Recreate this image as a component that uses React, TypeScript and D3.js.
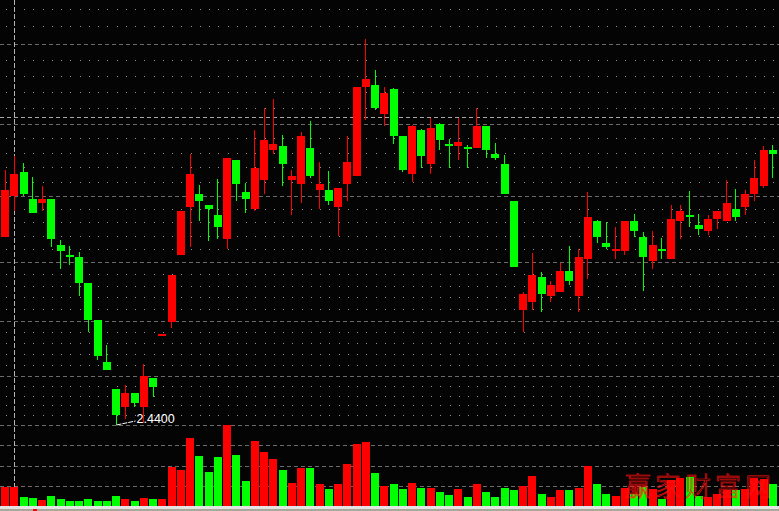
import * as d3 from 'd3';
import React, { useEffect, useRef } from 'react';

const W = 779;
const H = 511;

// daily bars, oldest on the left
const opens = [
  3.192, 3.356, 3.452, 3.344, 3.328, 3.344, 3.16, 3.12, 3.112, 3.008,
  2.86, 2.692, 2.584, 2.512, 2.568, 2.512, 2.628, 2.804, 2.852, 3.12,
  3.312, 3.364, 3.32, 3.28, 3.184, 3.5, 3.372, 3.304, 3.42, 3.54,
  3.556, 3.42, 3.404, 3.548, 3.38, 3.38, 3.312, 3.404, 3.436, 3.792,
  3.8, 3.684, 3.784, 3.596, 3.444, 3.62, 3.484, 3.644, 3.564, 3.556,
  3.552, 3.548, 3.636, 3.524, 3.484, 3.336, 2.9, 2.932, 3.032, 2.956,
  2.972, 3.056, 2.956, 3.104, 3.256, 3.168, 3.136, 3.136, 3.256, 3.192,
  3.096, 3.144, 3.104, 3.256, 3.28, 3.24, 3.216, 3.264, 3.256, 3.304,
  3.312, 3.364, 3.396, 3.54
];
const closes = [
  3.38, 3.444, 3.364, 3.288, 3.344, 3.184, 3.136, 3.112, 3.008, 2.86,
  2.716, 2.66, 2.48, 2.568, 2.528, 2.636, 2.592, 2.804, 3.04, 3.296,
  3.444, 3.336, 3.304, 3.232, 3.508, 3.404, 3.344, 3.468, 3.58, 3.564,
  3.484, 3.436, 3.596, 3.436, 3.404, 3.336, 3.388, 3.492, 3.792, 3.824,
  3.708, 3.768, 3.596, 3.46, 3.636, 3.516, 3.628, 3.58, 3.556, 3.572,
  3.548, 3.636, 3.54, 3.508, 3.364, 3.072, 2.964, 3.04, 2.964, 3.0,
  3.056, 3.016, 3.112, 3.272, 3.192, 3.152, 3.144, 3.256, 3.216, 3.112,
  3.16, 3.136, 3.264, 3.296, 3.272, 3.224, 3.264, 3.296, 3.328, 3.272,
  3.364, 3.428, 3.54, 3.524
];
const highs = [
  3.46, 3.516, 3.488, 3.432, 3.396, 3.344, 3.18, 3.156, 3.132, 3.008,
  2.86, 2.76, 2.584, 2.6, 2.568, 2.684, 2.628, 2.804, 3.04, 3.296,
  3.524, 3.4, 3.32, 3.424, 3.508, 3.5, 3.408, 3.62, 3.708, 3.744,
  3.6, 3.46, 3.612, 3.656, 3.492, 3.456, 3.388, 3.596, 3.792, 3.984,
  3.86, 3.792, 3.788, 3.596, 3.64, 3.624, 3.668, 3.648, 3.584, 3.668,
  3.56, 3.708, 3.636, 3.568, 3.52, 3.336, 2.972, 3.128, 3.052, 3.016,
  3.088, 3.156, 3.144, 3.372, 3.26, 3.252, 3.232, 3.256, 3.284, 3.212,
  3.216, 3.188, 3.32, 3.32, 3.376, 3.284, 3.28, 3.296, 3.42, 3.384,
  3.38, 3.5, 3.556, 3.56
];
const lows = [
  3.192, 3.296, 3.356, 3.288, 3.296, 3.152, 3.064, 3.08, 2.956, 2.812,
  2.7, 2.66, 2.44, 2.464, 2.512, 2.448, 2.552, 2.804, 2.828, 3.12,
  3.152, 3.256, 3.176, 3.184, 3.144, 3.336, 3.288, 3.296, 3.364, 3.524,
  3.396, 3.28, 3.328, 3.428, 3.304, 3.32, 3.196, 3.336, 3.436, 3.66,
  3.7, 3.636, 3.564, 3.452, 3.412, 3.468, 3.444, 3.54, 3.468, 3.5,
  3.468, 3.548, 3.508, 3.5, 3.364, 3.072, 2.812, 2.9, 2.892, 2.932,
  2.972, 3.0, 2.892, 3.024, 3.168, 3.144, 3.104, 3.12, 3.192, 2.976,
  3.064, 3.104, 3.104, 3.184, 3.232, 3.2, 3.2, 3.224, 3.256, 3.256,
  3.28, 3.336, 3.388, 3.428
];
const volumes = [
  19000, 19000, 9000, 8000, 6000, 10000, 7000, 5000, 5000, 7000,
  5000, 5000, 10000, 7000, 5000, 8000, 7000, 7000, 39000, 36000,
  68000, 50000, 34000, 49000, 81000, 51000, 25000, 65000, 54000, 47000,
  36000, 23000, 38000, 38000, 22000, 17000, 22000, 42000, 62000, 64000,
  33000, 20000, 22000, 17000, 23000, 18000, 18000, 14000, 11000, 17000,
  9000, 22000, 14000, 9000, 18000, 16000, 20000, 30000, 12000, 9000,
  16000, 16000, 18000, 40000, 22000, 12000, 10000, 18000, 12000, 19000,
  17000, 7000, 26000, 28000, 29000, 10000, 9000, 12000, 16000, 16000,
  17000, 28000, 27000, 22000
];

// price levels of the dashed grid lines (dotted rows split each gap in 5)
const priceGrid = [4.316, 3.964, 3.644, 3.356, 3.092, 2.856, 2.636, 2.44];
const markPrice = 3.672;
const lowLabel = '2.4400';
const watermark = '赢家财富网';

export default function App() {
  const svgRef = useRef<SVGSVGElement | null>(null);

  useEffect(() => {
    const svg = d3.select(svgRef.current);
    svg.selectAll('*').remove();

    const idx = d3.range(opens.length);
    const x = d3
      .scaleBand<number>()
      .domain(idx)
      .range([0.5, 777.5])
      .paddingInner(0.135)
      .paddingOuter(0.0675);
    const bw = x.bandwidth();
    const cx = (i: number) => Math.round(x(i)! + bw / 2 - 0.5);

    const y = d3.scaleLinear().domain([2.44, 3.964]).range([425, 44]);
    const vMax = d3.max(volumes)!;
    const yv = d3.scaleLinear().domain([0, vMax]).range([506, 425]);

    const up = (i: number) => closes[i] >= opens[i];
    const col = (i: number) => (up(i) ? '#ff0000' : '#00ff00');

    svg.append('rect').attr('width', W).attr('height', H).attr('fill', '#040404');

    const grid = svg.append('g').attr('shape-rendering', 'crispEdges');

    // dotted rows
    const dotRows: number[] = [];
    for (let k = 0; k < priceGrid.length - 1; k++) {
      const a = priceGrid[k];
      const b = priceGrid[k + 1];
      for (let s = 1; s < 5; s++) {
        const py = Math.round(y(a + ((b - a) * s) / 5));
        if (py >= 0 && py < 425) dotRows.push(py);
      }
    }
    const dots: [number, number][] = [];
    dotRows.forEach((py) => idx.forEach((i) => { if (i !== 1) dots.push([cx(i) + 1, py]); }));
    grid
      .selectAll('.dot')
      .data(dots)
      .enter()
      .append('rect')
      .attr('x', (d) => d[0])
      .attr('y', (d) => d[1])
      .attr('width', 1)
      .attr('height', 1)
      .attr('fill', '#909090');

    // dashed price lines
    grid
      .selectAll('.pline')
      .data(priceGrid.filter((p) => y(p) >= 0))
      .enter()
      .append('line')
      .attr('x1', 0)
      .attr('x2', W)
      .attr('y1', (d) => Math.round(y(d)) + 0.5)
      .attr('y2', (d) => Math.round(y(d)) + 0.5)
      .attr('stroke', '#6a6a6a')
      .attr('stroke-dasharray', '4,3');

    grid
      .append('line')
      .attr('x1', 0)
      .attr('x2', W)
      .attr('y1', Math.round(y(markPrice)) + 0.5)
      .attr('y2', Math.round(y(markPrice)) + 0.5)
      .attr('stroke', '#a8a8a8')
      .attr('stroke-dasharray', '4,3');

    // volume panel lines
    grid
      .selectAll('.vline')
      .data([0.25, 0.5, 0.75])
      .enter()
      .append('line')
      .attr('x1', 0)
      .attr('x2', W)
      .attr('y1', (d) => Math.round(yv(vMax * d)) + 0.5)
      .attr('y2', (d) => Math.round(yv(vMax * d)) + 0.5)
      .attr('stroke', '#6a6a6a')
      .attr('stroke-dasharray', '4,3');

    // cursor line
    grid
      .append('line')
      .attr('x1', cx(1) + 0.5)
      .attr('x2', cx(1) + 0.5)
      .attr('y1', 0)
      .attr('y2', 506)
      .attr('stroke', '#b4b4b4')
      .attr('stroke-dasharray', '5,2');

    // volume bars
    svg
      .append('g')
      .attr('shape-rendering', 'crispEdges')
      .selectAll('rect')
      .data(idx)
      .enter()
      .append('rect')
      .attr('x', (i) => x(i)!)
      .attr('width', bw)
      .attr('y', (i) => yv(volumes[i]))
      .attr('height', (i) => 506 - yv(volumes[i]))
      .attr('fill', col);

    // candles
    const cg = svg.append('g').attr('shape-rendering', 'crispEdges');
    cg.selectAll('.wick')
      .data(idx)
      .enter()
      .append('rect')
      .attr('x', (i) => cx(i))
      .attr('width', 1)
      .attr('y', (i) => y(highs[i]))
      .attr('height', (i) => Math.max(1, y(lows[i]) - y(highs[i])))
      .attr('fill', col);
    cg.selectAll('.body')
      .data(idx)
      .enter()
      .append('rect')
      .attr('x', (i) => x(i)!)
      .attr('width', bw)
      .attr('y', (i) => y(Math.max(opens[i], closes[i])))
      .attr('height', (i) => Math.max(1.5, Math.abs(y(opens[i]) - y(closes[i]))))
      .attr('fill', col);

    // lowest price marker
    const lowIdx = d3.minIndex(lows);
    const lx = cx(lowIdx) + 0.5;
    const ly = y(lows[lowIdx]);
    svg
      .append('line')
      .attr('x1', lx)
      .attr('y1', ly)
      .attr('x2', lx + 19)
      .attr('y2', ly - 4)
      .attr('stroke', '#ffffff')
      .attr('stroke-dasharray', '5,1');
    svg
      .append('text')
      .attr('x', lx + 20)
      .attr('y', ly - 2)
      .attr('fill', '#ffffff')
      .style('font-family', '"Liberation Sans", Arial, sans-serif')
      .style('font-size', '12.5px')
      .text(lowLabel);

    // watermark
    svg
      .append('text')
      .attr('x', 625)
      .attr('y', 496)
      .attr('fill', 'none')
      .attr('stroke', '#ff1010')
      .attr('stroke-width', 0.6)
      .style('font-family', '"Noto Sans CJK SC", sans-serif')
      .style('font-size', '26px')
      .style('font-weight', 300)
      .style('letter-spacing', '4px')
      .text(watermark);

    // bottom strip
    svg.append('rect').attr('x', 0).attr('y', 506).attr('width', W).attr('height', 3).attr('fill', '#e4e4e4');
    svg.append('rect').attr('x', 0).attr('y', 509).attr('width', W).attr('height', 2).attr('fill', '#a9a99a');
    svg.append('rect').attr('x', 33).attr('y', 509).attr('width', 4).attr('height', 2).attr('fill', '#ff0000');
  }, []);

  return (
    <svg
      ref={svgRef}
      width={W}
      height={H}
      style={{ position: 'absolute', left: 0, top: 0, display: 'block' }}
    />
  );
}
